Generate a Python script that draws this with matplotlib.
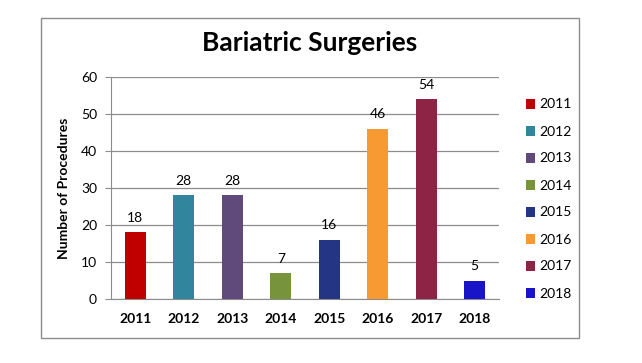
import matplotlib.pyplot as plt
from matplotlib.patches import Rectangle

years = ["2011", "2012", "2013", "2014", "2015", "2016", "2017", "2018"]
procedures = [18, 28, 28, 7, 16, 46, 54, 5]
colors = ["#C00000", "#31859C", "#604A7B", "#77933C",
          "#253585", "#F79A32", "#8E2445", "#1A14C8"]
yticks = [0, 10, 20, 30, 40, 50, 60]

plt.rcParams["font.family"] = ["Lato", "DejaVu Sans"]

W, H = 642, 363
fig = plt.figure(figsize=(W / 100, H / 100), dpi=100)

# outer chart border
fig.patches.append(Rectangle((41 / W, 1 - 338 / H), (579 - 41) / W, (338 - 18) / H,
                             transform=fig.transFigure, fill=False,
                             edgecolor="#8c8c8c", linewidth=1.0))

ax = fig.add_axes([111 / W, 1 - 299 / H, (499 - 111) / W, (299 - 77) / H])

x = list(range(len(years)))
bars = ax.bar(x, procedures, width=0.43, color=colors, label=years, zorder=3)
for xi, v in zip(x, procedures):
    ax.annotate(str(v), (xi, v), xytext=(0, 6), textcoords="offset points",
                ha="center", va="bottom", fontsize=10)

ax.set_xlim(-0.5, len(years) - 0.5)
ax.set_ylim(0, 60)
ax.set_yticks(yticks)
ax.set_xticks(x)
ax.set_xticklabels(years, fontweight="bold", fontsize=10)
ax.tick_params(axis="x", length=0, pad=10)
ax.tick_params(axis="y", length=4, color="#8c8c8c", labelsize=10, pad=6)
ax.yaxis.grid(True, color="#8c8c8c", linewidth=0.9, zorder=0)
for s in ["top", "right"]:
    ax.spines[s].set_visible(False)
ax.spines["left"].set_color("#8c8c8c")
ax.spines["bottom"].set_color("#8c8c8c")
ax.set_ylabel("Number of Procedures", fontweight="bold", fontsize=10, labelpad=8)

fig.text(310 / W, 1 - 43 / H, "Bariatric Surgeries", ha="center", va="center",
         fontsize=19, fontweight="bold")

leg = fig.legend(handles=bars, labels=years, loc="upper left",
                 bbox_to_anchor=(513 / W, 1 - 86 / H), frameon=False,
                 handlelength=0.7, handleheight=0.7, handletextpad=0.3,
                 labelspacing=1.08, fontsize=10)

fig.savefig("out.png", dpi=100)
